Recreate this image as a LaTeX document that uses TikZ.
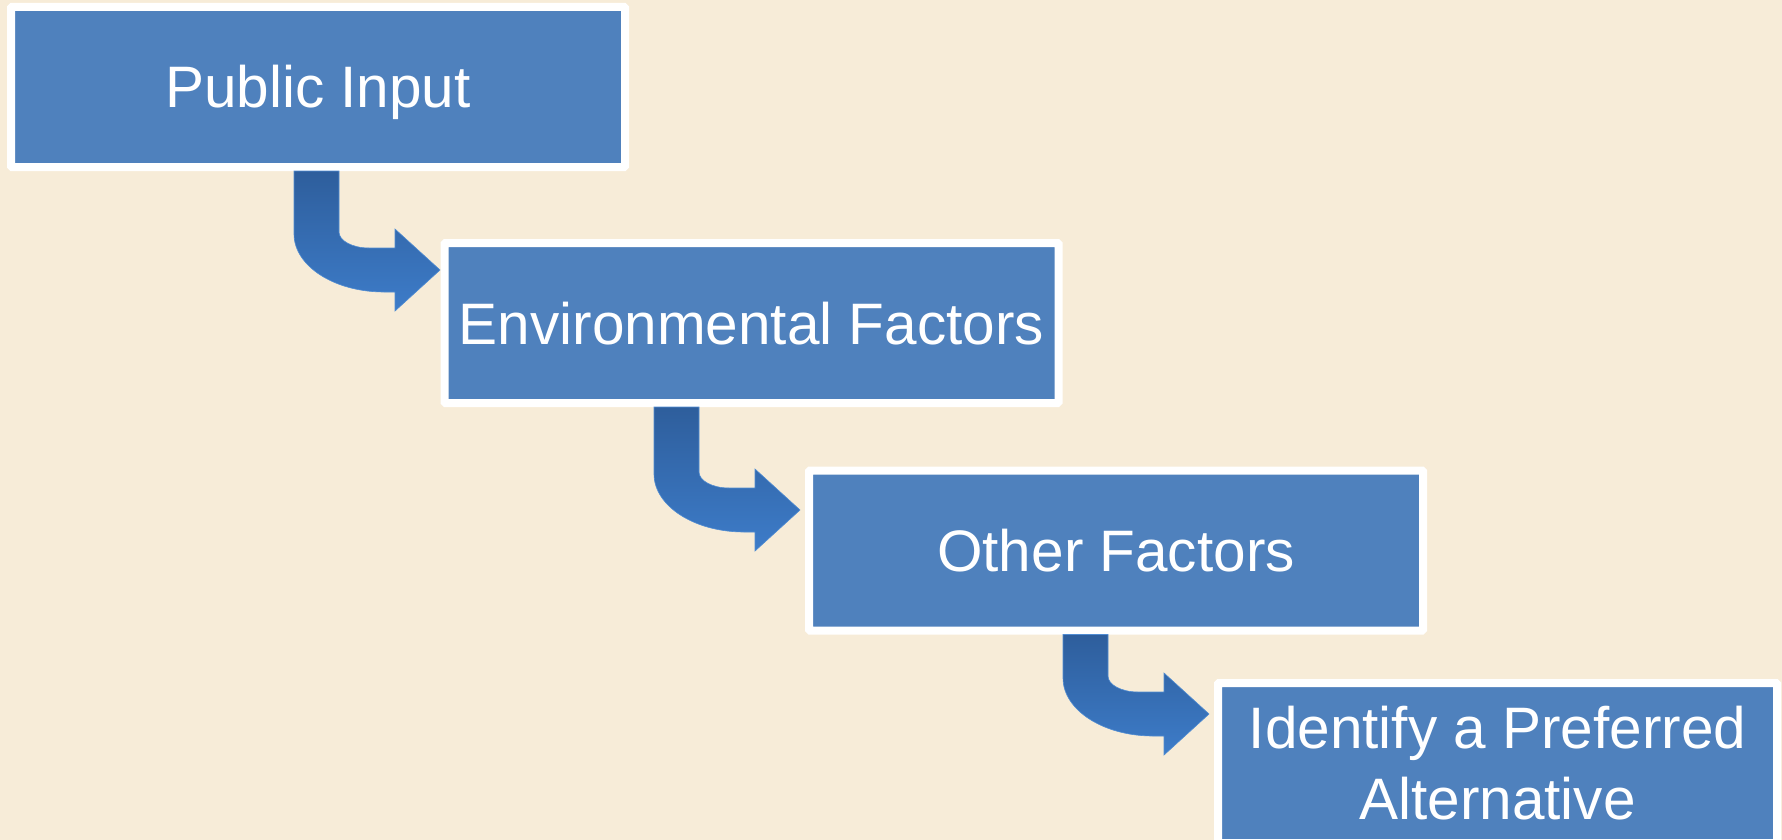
\documentclass[tikz,border=0pt]{standalone}
\usepackage{fontspec}
\setmainfont{Liberation Sans}
\usetikzlibrary{calc}

\definecolor{pagebg}{RGB}{247,236,216}
\definecolor{boxblue}{RGB}{79,129,189}
\definecolor{arrowtop}{RGB}{46,94,156}
\definecolor{arrowbot}{RGB}{61,124,201}
\definecolor{arrowedge}{RGB}{80,140,210}

\tikzset{
  stepbox/.style={draw=white, line width=8pt, fill=boxblue, rounded corners=1pt,
    inner sep=0pt, minimum width=614pt, minimum height=160pt,
    text=white, font=\fontsize{58.5}{71}\selectfont},
  oneline/.style={text height=42pt, text depth=0pt},
  arrowshade/.style={top color=arrowtop, bottom color=arrowbot, draw=arrowedge, line width=0.6pt},
}

% bent block arrow from the bottom of box #1 to the left side of box #2;
% #3 is the height of the arrow tip, #4 the gap left before box #2
\newcommand\steparrow[4]{%
  \path[arrowshade] let \p1=(#1.south), \p2=(#2.west), \n1={\x2-146pt-#4}, \n2={#3} in
    (\n1,\y1) -- ({\n1+45pt},\y1) -- ({\n1+45pt},{\n2+38pt})
    .. controls ({\n1+45pt},{\n2+29.2pt}) and ({\n1+58.4pt},{\n2+22pt}) .. ({\n1+75pt},{\n2+22pt})
    -- ({\n1+101pt},{\n2+22pt}) -- ({\n1+101pt},{\n2+41pt}) -- ({\n1+146pt},\n2)
    -- ({\n1+101pt},{\n2-41pt}) -- ({\n1+101pt},{\n2-22pt}) -- ({\n1+90pt},{\n2-22pt})
    .. controls ({\n1+40.3pt},{\n2-22pt}) and (\n1,{\n2+4pt}) .. (\n1,{\n2+36pt}) -- cycle;
}

\begin{document}
\begin{tikzpicture}[x=1pt, y=1pt]
  \fill[pagebg] (0,0) rectangle (1782,-840);
  \useasboundingbox (0,0) rectangle (1782,-840);

  \node[stepbox, oneline] (input) at (318,-87) {Public Input};
  \node[stepbox, oneline] (env) at (751.5,-323) {Environmental Factors};
  \node[stepbox, oneline] (other) at (1116,-550.5) {Other Factors};

  \begin{scope}
    \clip (0,0) rectangle (1782,-840);
    \node[stepbox, minimum width=559pt, align=center] (pref) at (1497.5,-763)
      {Identify a Preferred\\Alternative};
  \end{scope}

  \steparrow{input}{env}{-270pt}{0.5pt}
  \steparrow{env}{other}{-510pt}{5pt}
  \steparrow{other}{pref}{-714pt}{5pt}
\end{tikzpicture}
\end{document}
